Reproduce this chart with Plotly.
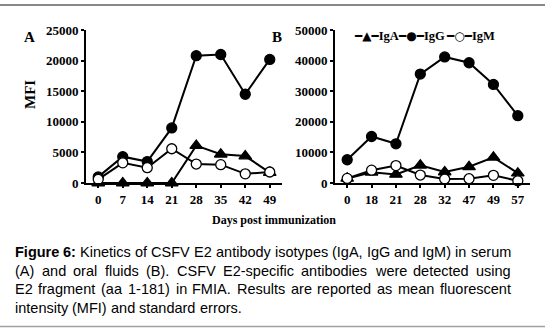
import plotly.graph_objects as go

# Panel A (serum)
days_a = ["0", "7", "14", "21", "28", "35", "42", "49"]
iga_a = [0, 0, 0, 0, 6100, 4700, 4400, 1700]
igg_a = [1000, 4300, 3500, 9000, 20800, 21000, 14500, 20200]
igm_a = [600, 3300, 2500, 5600, 3100, 3000, 1500, 1800]

# Panel B (oral fluids)
days_b = ["0", "18", "21", "28", "32", "47", "49", "57"]
iga_b = [1500, 3500, 2800, 5800, 3600, 5300, 8400, 3200]
igg_b = [7600, 15200, 12800, 35600, 41200, 39300, 32200, 22000]
igm_b = [1500, 4200, 5700, 2600, 1300, 1400, 2500, 700]

ticks_a = [0, 5000, 10000, 15000, 20000, 25000]
ticks_b = [0, 10000, 20000, 30000, 40000, 50000]

W, H = 545, 328
serif = "Liberation Serif, Times New Roman, serif"
sans = "Liberation Sans, Arial, sans-serif"

def px_x(v):
    return v / W

def px_y(v):
    return 1 - v / H

fig = go.Figure()

series = [
    ("IgA", "triangle-up", "black", iga_a, iga_b),
    ("IgG", "circle", "black", igg_a, igg_b),
    ("IgM", "circle", "white", igm_a, igm_b),
]
for name, sym, fill, va, vb in series:
    mk = dict(symbol=sym, size=10 if sym == "circle" else 11, color=fill,
              line=dict(color="black", width=1.3))
    fig.add_trace(go.Scatter(x=days_a, y=va, mode="lines+markers", name=name,
                             line=dict(color="black", width=2), marker=mk,
                             xaxis="x", yaxis="y", showlegend=False, cliponaxis=False))
    fig.add_trace(go.Scatter(x=days_b, y=vb, mode="lines+markers", name=name,
                             line=dict(color="black", width=2), marker=mk,
                             xaxis="x2", yaxis="y2", showlegend=False, cliponaxis=False))

tfont = dict(family=serif, size=13, color="black", weight="bold")
ax_common = dict(showline=True, linecolor="black", linewidth=2, showgrid=False,
                 zeroline=False, ticks="outside", tickcolor="black", ticklen=3,
                 tickwidth=1.5, tickfont=tfont)

ydom = [px_y(183), px_y(30)]
fig.update_layout(
    width=W, height=H,
    margin=dict(l=0, r=0, t=0, b=0, autoexpand=False),
    paper_bgcolor="white", plot_bgcolor="white",
    showlegend=False,
    xaxis=dict(domain=[px_x(86), px_x(282)], type="category", range=[-0.5, 7.5],
               anchor="y", ticklabelstandoff=0, **ax_common),
    yaxis=dict(domain=ydom, range=[0, 25000], tickvals=ticks_a,
               ticktext=[str(t) for t in ticks_a], anchor="x", **ax_common),
    xaxis2=dict(domain=[px_x(335), px_x(530)], type="category", range=[-0.5, 7.5],
                anchor="y2", ticklabelstandoff=0, **ax_common),
    yaxis2=dict(domain=ydom, range=[0, 50000], tickvals=ticks_b,
                ticktext=[str(t) for t in ticks_b], anchor="x2", **ax_common),
)

def label(text, x, y, size, angle=0, xa="center", ya="middle", family=serif):
    return dict(text=text, x=px_x(x), y=px_y(y), xref="paper", yref="paper",
                xanchor=xa, yanchor=ya, showarrow=False, textangle=angle,
                font=dict(family=family, size=size, color="black"))

ann = []
ann.append(label("<b>A</b>", 29, 37, 15))
ann.append(label("<b>B</b>", 277, 37, 15))
ann.append(label("<b>MFI</b>", 30, 95, 15, angle=-90))
ann.append(label("<b>Days post immunization</b>", 274, 220, 12))

# Legend drawn as text (line + marker glyphs followed by the series name)
glyph = '<span style="font-family:DejaVu Sans;font-size:12px">%s</span>'
legend_items = [("━▲━", "IgA", 352), ("━●━", "IgG", 396), ("━○━", "IgM", 444)]
for g, name, xx in legend_items:
    ann.append(label((glyph % g) + "<b>" + name + "</b>", xx, 36, 12.5, xa="left"))

# Caption, justified word by word using Arial/Liberation Sans advance widths
AW = {' ': 278, 'a': 556, 'b': 556, 'c': 500, 'd': 556, 'e': 556, 'f': 278, 'g': 556,
      'h': 556, 'i': 222, 'j': 222, 'k': 500, 'l': 222, 'm': 833, 'n': 556, 'o': 556,
      'p': 556, 'q': 556, 'r': 333, 's': 500, 't': 278, 'u': 556, 'v': 500, 'w': 722,
      'x': 500, 'y': 500, 'z': 500, 'A': 667, 'B': 667, 'C': 722, 'D': 722, 'E': 667,
      'F': 611, 'G': 778, 'H': 722, 'I': 278, 'J': 500, 'K': 667, 'L': 556, 'M': 833,
      'N': 722, 'O': 778, 'P': 667, 'Q': 778, 'R': 722, 'S': 667, 'T': 611, 'U': 722,
      'V': 667, 'W': 944, 'X': 667, 'Y': 667, 'Z': 611, '(': 333, ')': 333, ',': 278,
      '.': 278, '-': 333, ':': 278}
ABW = {'F': 611, 'i': 278, 'g': 611, 'u': 611, 'r': 389, 'e': 556, '6': 556, ':': 333, ' ': 278}

caption = [
    "Figure 6: Kinetics of CSFV E2 antibody isotypes (IgA, IgG and IgM) in serum",
    "(A) and oral fluids (B). CSFV E2-specific antibodies were detected using",
    "E2 fragment (aa 1-181) in FMIA. Results are reported as mean fluorescent",
    "intensity (MFI) and standard errors.",
]
cap_y = [252, 270.5, 289, 307.5]
fs = 14.5
left, right = 14, 510

def wwidth(word, bold=False):
    tbl = ABW if bold else AW
    return sum(tbl.get(c, 556) for c in word) * fs / 1000.0

for li, (line, yy) in enumerate(zip(caption, cap_y)):
    words = line.split(" ")
    bold_flags = [li == 0 and wi < 2 for wi in range(len(words))]
    widths = [wwidth(w, b) for w, b in zip(words, bold_flags)]
    if li < len(caption) - 1:
        gap = (right - left - sum(widths)) / (len(words) - 1)
    else:
        gap = AW[' '] * fs / 1000.0
    xx = left
    for w, b, wd in zip(words, bold_flags, widths):
        a = label(("<b>%s</b>" % w) if b else w, xx, yy, fs, xa="left", family=sans)
        a["xshift"] = -1
        ann.append(a)
        xx += wd + gap
fig.update_layout(annotations=ann)

fig.add_shape(type="line", xref="paper", yref="paper", x0=0, x1=1, y0=px_y(5), y1=px_y(5),
              line=dict(color="#888888", width=2), layer="above")
fig.add_shape(type="line", xref="paper", yref="paper", x0=0, x1=1, y0=px_y(326.5), y1=px_y(326.5),
              line=dict(color="#a0a0a0", width=1.5))

fig.write_html("out.html", config={"displayModeBar": False},
               post_script="document.body.style.margin='0';document.body.style.overflow='hidden';")
